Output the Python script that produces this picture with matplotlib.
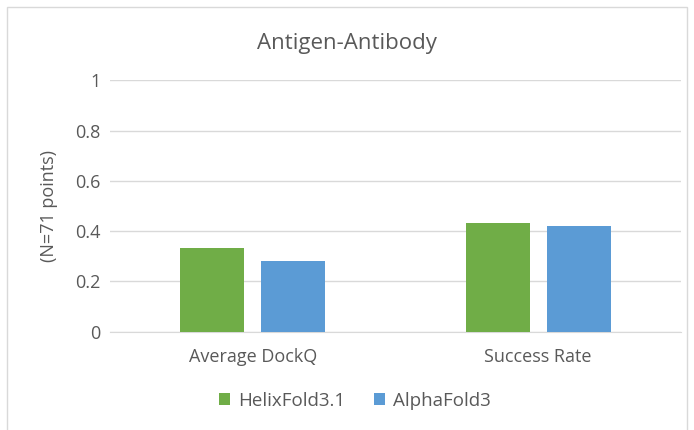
import matplotlib
matplotlib.use("Agg")
import matplotlib.pyplot as plt
from matplotlib.patches import Rectangle
import numpy as np

categories = ["Average DockQ", "Success Rate"]
series_names = ["HelixFold3.1", "AlphaFold3"]
helixfold = [0.332, 0.434]
alphafold = [0.280, 0.420]
yticks = [0, 0.2, 0.4, 0.6, 0.8, 1]
ytick_labels = ["0", "0.2", "0.4", "0.6", "0.8", "1"]
colors = ["#70AD47", "#5B9BD5"]

plt.rcParams['font.family'] = ['Open Sans', 'DejaVu Sans']
W, H = 694, 430
fig = plt.figure(figsize=(W/100, H/100), dpi=100)
x0, x1, ytop, ybot = 110, 681, 80.3, 331.7
ax = fig.add_axes([x0/W, 1-ybot/H, (x1-x0)/W, (ybot-ytop)/H])

x = np.arange(len(categories))
bw = 0.224
gap = 0.06
off = (bw + gap) / 2
ax.bar(x - off, helixfold, bw, color=colors[0], label=series_names[0], zorder=3)
ax.bar(x + off, alphafold, bw, color=colors[1], label=series_names[1], zorder=3)

ax.set_xlim(-0.5, 1.5)
ax.set_ylim(0, 1)
ax.set_yticks(yticks)
ax.set_yticklabels(ytick_labels)
ax.set_xticks(x)
ax.set_xticklabels(categories)
ax.grid(axis='y', color='#D9D9D9', linewidth=1, zorder=0)
for s in ['top', 'right', 'left']:
    ax.spines[s].set_visible(False)
ax.spines['bottom'].set_color('#D9D9D9')
ax.tick_params(axis='both', length=0, colors='#595959', labelsize=13)
ax.tick_params(axis='y', pad=7)
ax.tick_params(axis='x', pad=12)
ax.set_ylabel("(N=71 points)", color='#595959', fontsize=13, labelpad=12)

fig.text(347/W, 1 - 43/H, "Antigen-Antibody", ha='center', va='center',
         fontsize=16, color='#595959')

leg = fig.legend(loc='center', bbox_to_anchor=(355/W, 1 - 401/H), ncol=2, frameon=False,
                 fontsize=13.5, handlelength=0.6, handleheight=0.6, columnspacing=1.5,
                 handletextpad=0.45)
for t in leg.get_texts():
    t.set_color('#595959')

fig.patches.append(Rectangle((7/W, -0.1), (687-7)/W, 1.1 - 7/H, transform=fig.transFigure,
                             fill=False, edgecolor='#D9D9D9', linewidth=1))

fig.savefig("out.png", dpi=100)
